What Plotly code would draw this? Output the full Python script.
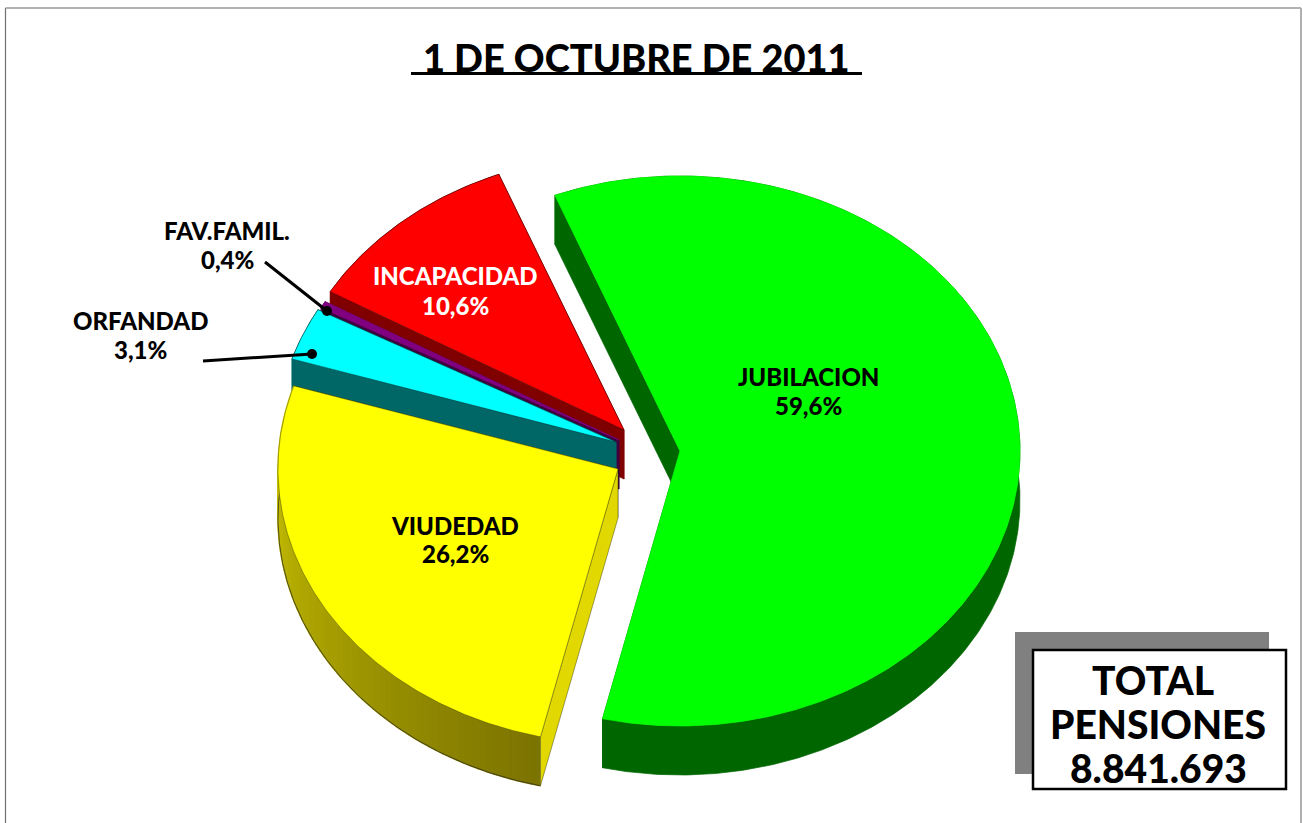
import numpy as np
import plotly.graph_objects as go

# ---- data
TITLE = "1 DE OCTUBRE DE 2011"
CATEGORIES = ["JUBILACION", "VIUDEDAD", "ORFANDAD", "FAV.FAMIL.", "INCAPACIDAD"]
VALUES = [59.6, 26.2, 3.1, 0.4, 10.6]
VALUE_LABELS = ["59,6%", "26,2%", "3,1%", "0,4%", "10,6%"]
TOTAL_LINES = ["TOTAL", "PENSIONES", "8.841.693"]

# ---- geometry and styling of the projected, exploded pie
W, H = 1303, 823
START_ANGLE = -21.6
RX, RY, DEPTH = 340, 275, 49
APEX = [(680, 451), (618, 469), (616, 442), (619, 440), (624, 430)]
TOP_COLORS = ["#00ff00", "#ffff00", "#00ffff", "#800080", "#ff0000"]
SIDE_COLORS = ["#006600", "#e0d800", "#006666", "#400040", "#800000"]
ARC_DARK, ARC_LIGHT = np.array([0x7c, 0x74, 0x00]), np.array([0xd4, 0xcc, 0x00])
OUTLINES = ["#00ff00", "rgba(60,60,0,0.6)", "rgba(0,40,40,0.7)", "#800080", "rgba(60,0,0,0.7)"]
LABEL_POS = [(808, 376, 405), (455, 525, 553), (140, 320, 349), (227, 230, 259), (455, 275, 305)]
LABEL_COLORS = ["black", "black", "black", "black", "white"]
DRAW_ORDER = [4, 3, 2, 1, 0]
FONT = "Lato"

fractions = np.array(VALUES) / sum(VALUES)
edges = START_ANGLE + 360 * np.concatenate([[0], np.cumsum(fractions)])


def rim(i, t):
    rad = np.radians(t)
    return APEX[i][0] + RX * np.sin(rad), APEX[i][1] - RY * np.cos(rad)


def poly(fig, xs, ys, fill, line=None, width=0.7):
    fig.add_trace(go.Scatter(
        x=list(xs), y=list(ys), mode="lines", fill="toself", fillcolor=fill,
        line=dict(color=line or fill, width=width), hoverinfo="skip", showlegend=False,
    ))


fig = go.Figure()
for i in DRAW_ORDER:
    a0, a1 = edges[i], edges[i + 1]
    ts = np.linspace(a0, a1, max(int((a1 - a0) * 2), 4))
    ax, ay = rim(i, ts)
    px, py = APEX[i]
    # cut faces
    for t in (a1, a0):
        ex, ey = rim(i, t)
        color = SIDE_COLORS[i]
        poly(fig, [px, ex, ex, px, px], [py, ey, ey + DEPTH, py + DEPTH, py], color,
             "rgba(40,40,0,0.6)" if i == 1 else color)
    # outer wall
    if i == 1:
        segs = np.linspace(a0, a1, 70)
        for k in range(len(segs) - 1):
            sx, sy = rim(i, np.linspace(segs[k], segs[k + 1], 3))
            mix = k / (len(segs) - 2)
            c = ARC_DARK + (ARC_LIGHT - ARC_DARK) * mix
            col = "rgb(%d,%d,%d)" % tuple(c)
            poly(fig, np.r_[sx, sx[::-1]], np.r_[sy, sy[::-1] + DEPTH], col, width=1.5)
        fig.add_trace(go.Scatter(x=ax, y=ay + DEPTH, mode="lines", hoverinfo="skip", showlegend=False,
                                 line=dict(color="rgba(50,50,30,0.8)", width=1)))
    else:
        poly(fig, np.r_[ax, ax[::-1]], np.r_[ay, ay[::-1] + DEPTH], SIDE_COLORS[i])
    # top face
    poly(fig, np.r_[px, ax, px], np.r_[py, ay, py], TOP_COLORS[i], OUTLINES[i], 0.7)

# leader lines
for xs, ys in [((265, 327), (262, 311)), ((203, 312), (361, 354))]:
    fig.add_trace(go.Scatter(x=xs, y=ys, mode="lines", line=dict(color="black", width=3),
                             hoverinfo="skip", showlegend=False))
    fig.add_trace(go.Scatter(x=xs[1:], y=ys[1:], mode="markers", marker=dict(color="black", size=10),
                             hoverinfo="skip", showlegend=False))


def text(x, y, s, size, color="black"):
    fig.add_annotation(x=x, y=y, text=s, showarrow=False, xref="x", yref="y",
                       xanchor="center", yanchor="middle",
                       font=dict(family=FONT, size=size, color=color, weight=900))


for i, (lx, y1, y2) in enumerate(LABEL_POS):
    text(lx, y1, CATEGORIES[i], 24, LABEL_COLORS[i])
    text(lx, y2, VALUE_LABELS[i], 24, LABEL_COLORS[i])

text(636, 57, TITLE, 38)
text(1153, 680, TOTAL_LINES[0], 39)
text(1158, 724, TOTAL_LINES[1], 39)
text(1158, 768, TOTAL_LINES[2], 39)

shapes = [
    dict(type="line", x0=5.5, x1=5.5, y0=8, y1=823, line=dict(color="#707070", width=1.2)),
    dict(type="line", x0=5.5, x1=1301, y0=8, y1=8, line=dict(color="#9a9a9a", width=1.5)),
    dict(type="line", x0=1301, x1=1301, y0=8, y1=823, line=dict(color="#b0b0b0", width=2)),
    dict(type="line", x0=411, x1=862, y0=73.5, y1=73.5, line=dict(color="black", width=3)),
    dict(type="rect", x0=1015, x1=1269, y0=632, y1=774, fillcolor="#808080", line=dict(width=0), layer="below"),
    dict(type="rect", x0=1033, x1=1286, y0=650, y1=789, fillcolor="white", line=dict(color="black", width=2.5), layer="below"),
]

fig.update_layout(
    width=W, height=H, margin=dict(l=0, r=0, t=0, b=0),
    paper_bgcolor="white", plot_bgcolor="white", showlegend=False, shapes=shapes,
    xaxis=dict(range=[0, W], visible=False, fixedrange=True),
    yaxis=dict(range=[H, 0], visible=False, fixedrange=True),
)
fig.write_html("out.html", config=dict(displayModeBar=False),
               post_script="document.body.style.margin='0';document.body.style.overflow='hidden';")
